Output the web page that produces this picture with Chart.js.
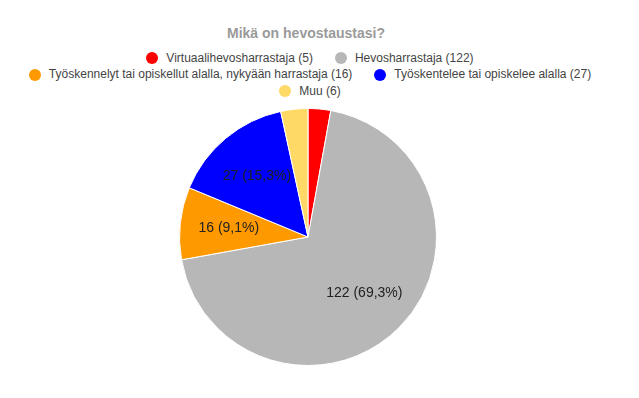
<!DOCTYPE html>
<html>
<head>
<meta charset="utf-8">
<script src="https://cdn.jsdelivr.net/npm/chart.js@4"></script>
<style>
  html, body { margin: 0; padding: 0; background: #fff; }
  body { width: 639px; height: 398px; position: relative; overflow: hidden; font-family: "Liberation Sans", Arial, sans-serif; }
  #title { position: absolute; left: 0; top: 25px; width: 612px; text-align: center; font-weight: bold; font-size: 14px; color: #9a9a9a; }
  #legend { position: absolute; left: 10px; top: 50px; width: 600px; font-size: 12px; color: #444; line-height: 13px; }
  #legend .row { display: flex; justify-content: center; align-items: center; column-gap: 22px; height: 16.5px; }
  #legend .item { display: flex; align-items: center; white-space: nowrap; }
  #legend .dot { width: 12px; height: 12px; border-radius: 50%; margin-right: 8px; }
  #wrap { position: absolute; left: 0; top: 108px; width: 616px; height: 258px; }
</style>
</head>
<body>
<div id="title">Mikä on hevostaustasi?</div>
<div id="legend"></div>
<div id="wrap"><canvas id="pieChart"></canvas></div>
<script>
// Vastaukset kyselyyn "Mikä on hevostaustasi?"
const categories = [
    'Virtuaalihevosharrastaja',
    'Hevosharrastaja',
    'Työskennelyt tai opiskellut alalla, nykyään harrastaja',
    'Työskentelee tai opiskelee alalla',
    'Muu'
];
const answers = [5, 122, 16, 27, 6];
const sliceColors = ['#ff0000', '#b7b7b7', '#ff9900', '#0000ff', '#ffd966'];
const legendRows = [[0, 1], [2, 3], [4]];

const total = answers.reduce((a, b) => a + b, 0);
const pctText = v => (v / total * 100).toFixed(1).replace('.', ',') + '%';

// legend (google forms -style, rows as in the original)
const legendEl = document.getElementById('legend');
legendRows.forEach(row => {
    const rowEl = document.createElement('div');
    rowEl.className = 'row';
    row.forEach(i => {
        const item = document.createElement('div');
        item.className = 'item';
        item.innerHTML = '<span class="dot" style="background:' + sliceColors[i] + '"></span>' +
            categories[i] + ' (' + answers[i] + ')';
        rowEl.appendChild(item);
    });
    legendEl.appendChild(rowEl);
});

const sliceLabels = {
    id: 'sliceLabels',
    afterDatasetsDraw(chart) {
        const ctx = chart.ctx;
        const meta = chart.getDatasetMeta(0);
        ctx.save();
        ctx.font = '14px "Liberation Sans", Arial, sans-serif';
        ctx.fillStyle = '#222';
        ctx.textAlign = 'center';
        ctx.textBaseline = 'middle';
        meta.data.forEach((arc, i) => {
            const v = answers[i];
            if (v / total < 0.05) return;
            const p = arc.getProps(['x', 'y', 'startAngle', 'endAngle', 'outerRadius'], true);
            const mid = (p.startAngle + p.endAngle) / 2;
            const r = p.outerRadius * 0.62;
            ctx.fillText(v + ' (' + pctText(v) + ')', p.x + Math.cos(mid) * r, p.y + Math.sin(mid) * r);
        });
        ctx.restore();
    }
};

new Chart(document.getElementById('pieChart'), {
    type: 'pie',
    data: {
        labels: categories,
        datasets: [{
            data: answers,
            backgroundColor: sliceColors,
            borderColor: '#ffffff',
            borderWidth: 1
        }]
    },
    options: {
        responsive: true,
        maintainAspectRatio: false,
        animation: false,
        layout: { padding: 0 },
        plugins: {
            legend: { display: false },
            tooltip: { enabled: false }
        }
    },
    plugins: [sliceLabels]
});
</script>
</body>
</html>
